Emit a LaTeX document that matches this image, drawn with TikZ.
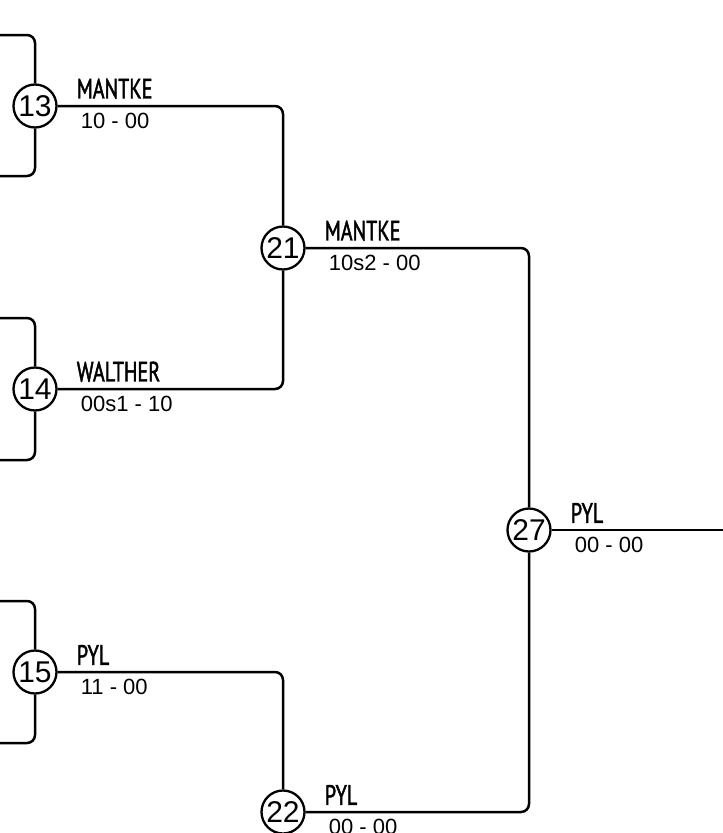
\documentclass[tikz,border=0pt]{standalone}
\usepackage{fontspec}
\setmainfont{Liberation Sans}
\newfontfamily\namefont[FakeStretch=0.72,FakeBold=1.6]{PT Sans}
\usetikzlibrary{positioning,calc}

\tikzset{
  seed/.style={circle, draw, line width=2.3pt, minimum size=43pt, inner sep=0pt, font=\fontsize{30}{30}\selectfont},
  winner/.style={anchor=south west, inner sep=0pt, font=\namefont\fontsize{28}{28}\selectfont},
  score/.style={anchor=north west, inner sep=0pt, font=\fontsize{22}{22}\selectfont},
  link/.style={line width=2.5pt, rounded corners=8pt},
}

\begin{document}
\begin{tikzpicture}[x=1pt, y=-1pt]
\useasboundingbox (0,0) rectangle (723,833);
\node[seed] (m13) at (35,106) {13};
\node[seed] (m14) at (35,389) {14};
\node[seed] (m15) at (35,672) {15};
\node[seed] (m21) at (283,248) {21};
\node[seed] (m22) at (283,812) {22};
\node[seed] (m27) at (529,530) {27};
\coordinate (in13a) at (0,35);  \coordinate (in13b) at (0,176);
\coordinate (in14a) at (0,318); \coordinate (in14b) at (0,460);
\coordinate (in15a) at (0,601); \coordinate (in15b) at (0,743);
\coordinate (out27) at (723,530);
\draw[link] (in13a) -| (m13); \draw[link] (in13b) -| (m13);
\draw[link] (in14a) -| (m14); \draw[link] (in14b) -| (m14);
\draw[link] (in15a) -| (m15); \draw[link] (in15b) -| (m15);
\draw[link] (m13) -| (m21); \draw[link] (m14) -| (m21);
\draw[link] (m15) -| (m22);
\draw[link] (m21) -| (m27); \draw[link] (m22) -| (m27);
\draw[link] (m27) -- (out27);
\node[winner] at ([xshift=19pt,yshift=7pt]m13.east) {MANTKE};
\node[score] at ([xshift=23pt,yshift=-7pt]m13.east) {10 - 00};
\node[winner] at ([xshift=19pt,yshift=7pt]m14.east) {WALTHER};
\node[score] at ([xshift=23pt,yshift=-7pt]m14.east) {00s1 - 10};
\node[winner] at ([xshift=19pt,yshift=7pt]m15.east) {PYL};
\node[score] at ([xshift=23pt,yshift=-7pt]m15.east) {11 - 00};
\node[winner] at ([xshift=19pt,yshift=7pt]m21.east) {MANTKE};
\node[score] at ([xshift=23pt,yshift=-7pt]m21.east) {10s2 - 00};
\node[winner] at ([xshift=19pt,yshift=7pt]m22.east) {PYL};
\node[score] at ([xshift=23pt,yshift=-7pt]m22.east) {00 - 00};
\node[winner] at ([xshift=19pt,yshift=7pt]m27.east) {PYL};
\node[score] at ([xshift=23pt,yshift=-7pt]m27.east) {00 - 00};
\end{tikzpicture}
\end{document}
